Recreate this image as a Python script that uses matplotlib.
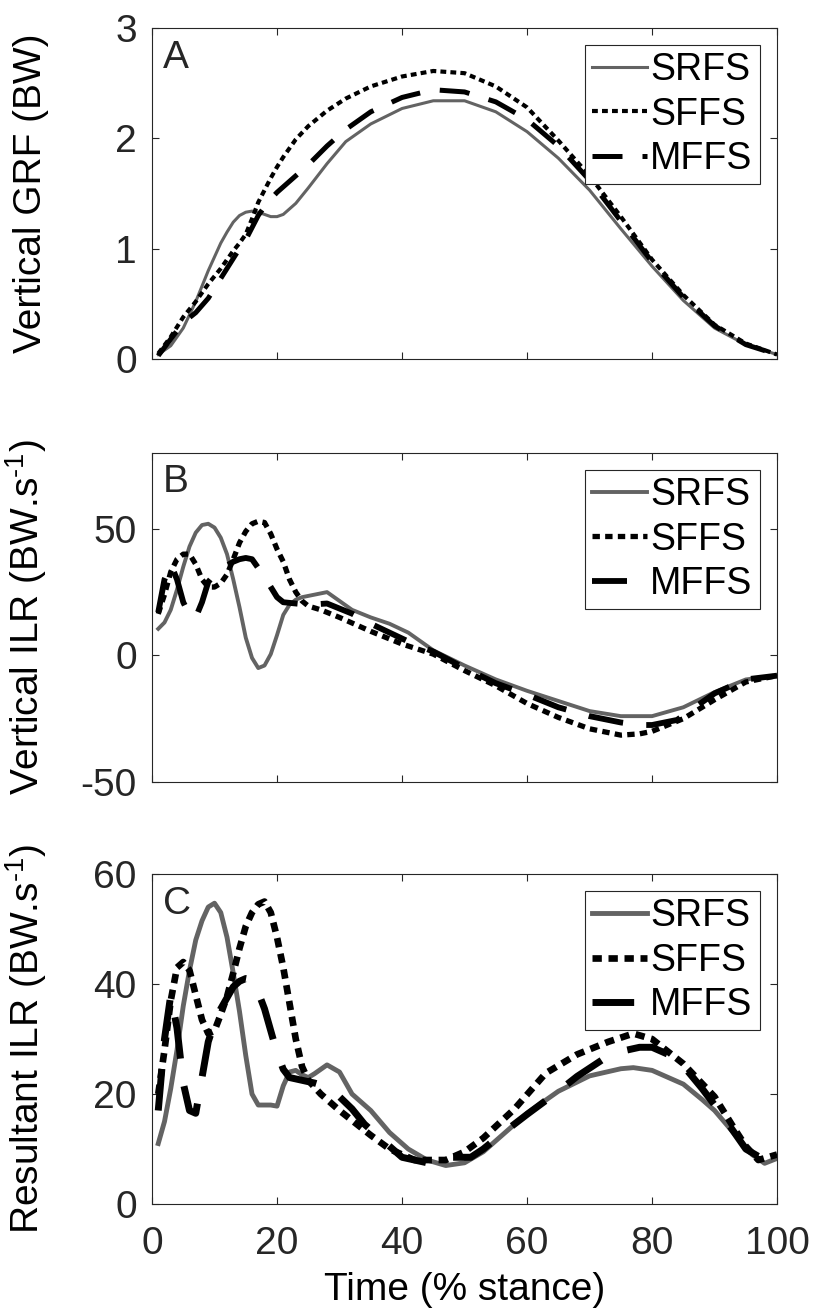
"""Vertical GRF, vertical ILR and resultant ILR over stance for three strike patterns."""
import matplotlib

matplotlib.use("Agg")
import matplotlib.pyplot as plt

plt.rcParams.update(
    {
        "font.family": ["Liberation Sans", "DejaVu Sans"],
        "mathtext.fontset": "custom",
        "mathtext.rm": "Liberation Sans",
        "mathtext.it": "Liberation Sans:italic",
        "axes.unicode_minus": False,
        "text.color": "#262626",
        "axes.edgecolor": "#262626",
        "xtick.color": "#262626",
        "ytick.color": "#262626",
        "axes.linewidth": 0.8,
    }
)

LABELS = ["SRFS", "SFFS", "MFFS"]
GREY = "#636363"

# --- panel A: vertical GRF (BW) ---
a_x = [1, 3, 5, 7, 9, 11, 12, 13, 14, 15, 16, 17, 18, 19, 20, 21, 23, 25, 28, 31,
       35, 40, 45, 50, 55, 60, 65, 70, 75, 80, 85, 90, 95, 100]
a_srfs = [0.04, 0.12, 0.28, 0.52, 0.80, 1.05, 1.15, 1.24, 1.30, 1.33, 1.34, 1.33,
          1.31, 1.29, 1.29, 1.31, 1.41, 1.55, 1.77, 1.97, 2.13, 2.27, 2.34, 2.34,
          2.24, 2.06, 1.82, 1.53, 1.18, 0.84, 0.53, 0.28, 0.13, 0.04]
a_sffs = [0.05, 0.20, 0.38, 0.52, 0.68, 0.82, 0.90, 0.98, 1.05, 1.13, 1.27, 1.42,
          1.53, 1.64, 1.74, 1.83, 1.99, 2.11, 2.25, 2.36, 2.47, 2.56, 2.61, 2.59,
          2.47, 2.28, 1.98, 1.66, 1.29, 0.90, 0.58, 0.31, 0.14, 0.04]
a_mffs = [0.03, 0.18, 0.33, 0.42, 0.55, 0.73, 0.82, 0.91, 1.00, 1.08, 1.19, 1.30,
          1.38, 1.45, 1.51, 1.56, 1.66, 1.76, 1.93, 2.08, 2.24, 2.37, 2.44, 2.42,
          2.33, 2.17, 1.93, 1.62, 1.25, 0.88, 0.56, 0.30, 0.13, 0.04]

# --- panel B: vertical ILR (BW.s^-1) ---
b_srfs_x = [1, 2, 3, 4, 5, 6, 7, 8, 9, 10, 11, 12, 13, 14, 15, 16, 17, 18, 19, 20,
            21, 22, 23, 24, 26, 28, 30, 32, 35, 38, 41, 45, 50, 55, 60, 65, 70, 75,
            80, 85, 90, 95, 100]
b_srfs = [10.5, 13, 18, 26, 35, 43, 48.5, 51.5, 52, 50.5, 46.5, 40, 30, 19, 7, -1,
          -5, -4, 0.5, 8, 16, 20, 22, 23, 24, 25, 21.5, 18, 15, 12.5, 9, 2, -4,
          -9.5, -14, -18, -22, -24, -24, -20.5, -14.5, -9.5, -8]
b_sffs_x = [1, 2, 3, 4, 5, 6, 7, 8, 9, 10, 11, 12, 13, 14, 15, 16, 17, 18, 19, 20,
            21, 22, 23, 24, 25, 27, 30, 35, 40, 45, 50, 55, 60, 65, 70, 75, 78, 80,
            85, 90, 95, 100]
b_sffs = [16.4, 24, 33, 38, 40, 40, 36, 30, 27, 27, 28.5, 32, 38, 44.5, 49, 52, 53,
          52.5, 48, 42, 37, 30, 25, 21.5, 19.5, 18, 15, 9.5, 4.5, 0.5, -6, -12,
          -19, -24.5, -29, -31.5, -31, -30, -25, -17.5, -10.5, -8]
b_mffs_x = [1, 2, 3, 4, 5, 6, 7, 8, 9, 10, 11, 12, 13, 14, 15, 16, 17, 18, 19, 20,
            21, 23, 25, 28, 30, 32, 35, 38, 41, 45, 50, 55, 60, 65, 70, 75, 78, 80,
            84, 90, 95, 100]
b_mffs = [17, 30, 36, 30, 21, 16, 15, 21, 29, 32, 33.5, 35.5, 37, 38, 38.5, 38,
          34.5, 31, 27, 23, 21, 20.5, 20, 20.5, 18.5, 16.5, 12.5, 9, 5.5, 1.5, -5,
          -11, -15.5, -20.5, -24, -26.5, -27.5, -27.5, -25.5, -15, -9.5, -8]

# --- panel C: resultant ILR (BW.s^-1) ---
c_srfs_x = [1, 2, 3, 4, 5, 6, 7, 8, 9, 10, 11, 12, 13, 14, 15, 16, 17, 18, 19, 20,
            21, 22, 23, 24, 25, 26, 28, 30, 32, 35, 38, 41, 44, 47, 50, 53, 56, 60,
            65, 70, 75, 77, 80, 85, 88, 90, 93, 96, 98, 100]
c_srfs = [11, 15, 21, 28, 36, 42.5, 48, 51.5, 54, 54.7, 53, 48.5, 42, 35, 27, 20,
          18, 18, 18, 17.8, 21.5, 24, 24.3, 23.5, 23, 23.7, 25.3, 24, 20, 17, 13,
          10, 8, 7, 7.5, 9.5, 12.5, 16.5, 20.5, 23.3, 24.6, 24.8, 24.3, 21.8, 19,
          17, 13, 9, 7.4, 8.3]
c_sffs_x = [1, 2, 3, 4, 5, 6, 7, 8, 9, 10, 11, 12, 13, 14, 15, 16, 17, 18, 19, 20,
            21, 22, 23, 24, 25, 27, 30, 35, 38, 42, 47, 50, 53, 58, 63, 68, 73, 77,
            80, 85, 90, 93, 95, 97, 100]
c_sffs = [20, 28, 37, 43, 44, 42.5, 38, 33.5, 31, 31.5, 34.5, 37.7, 42, 46.5, 50.5,
          53, 54.5, 55, 53, 48.5, 43, 36.5, 30, 25, 22.5, 20, 17, 12.5, 10, 8, 8,
          9.5, 12, 17.3, 23.8, 27.2, 29.5, 31, 30, 25.5, 19.5, 14, 10.5, 8, 9]
c_mffs_x = [1, 2, 3, 4, 5, 6, 7, 8, 9, 10, 11, 12, 13, 14, 15, 16, 17, 18, 19, 20,
            21, 22, 24, 26, 28, 30, 32, 34, 36, 38, 40, 44, 48, 51, 53, 56, 60, 65,
            68, 72, 76, 78, 80, 84, 88, 91, 95, 98, 100]
c_mffs = [17, 30, 38, 32, 22, 17, 16.5, 23, 29.5, 33, 35.5, 37.5, 39.5, 40.5, 41,
          40.8, 38.5, 35.5, 31.5, 27.5, 24.5, 23, 22.5, 22, 21.3, 19.5, 17.3, 14.5,
          12.5, 10.5, 8.5, 7.5, 8.5, 8.5, 10, 12.8, 16.3, 20.5, 23.2, 26.2, 28,
          28.5, 28.5, 26.5, 21, 16.5, 10, 8, 8.5]

X_TICKS = [0, 20, 40, 60, 80, 100]
FS = 28
SFFS_DOTS = (0, (1.4, 1.0))
MFFS_DASH = (0, (6.0, 4.0))


def draw_panel(ax, series, widths, ylim, yticks, letter, ylabel, show_x):
    styles = ["-", SFFS_DOTS, MFFS_DASH]
    colors = [GREY, "black", "black"]
    for (x, y), lw, ls, col, lab in zip(series, widths, styles, colors, LABELS):
        ax.plot(x, y, color=col, lw=lw, ls=ls, label=lab)
    ax.set_xlim(0, 100)
    ax.set_ylim(*ylim)
    ax.set_xticks(X_TICKS)
    ax.set_yticks(yticks)
    ax.tick_params(direction="in", length=5, width=0.8, top=True, right=True,
                   labelsize=FS)
    ax.tick_params(axis="y", pad=11)
    ax.tick_params(axis="x", pad=16)
    if not show_x:
        ax.set_xticklabels([])
    ax.text(0.018, 0.965, letter, transform=ax.transAxes, fontsize=FS,
            ha="left", va="top")
    ax.set_ylabel(ylabel, fontsize=FS)
    ax.yaxis.set_label_coords(-0.165, 0.5)
    leg = ax.legend(loc="upper right", fontsize=27, frameon=True, fancybox=False,
                    framealpha=1, edgecolor="#262626", borderaxespad=0.45,
                    handlelength=1.45, handletextpad=0.1, labelspacing=0.22,
                    borderpad=0.2, labelcolor="black")
    leg.get_frame().set_linewidth(0.8)


fig = plt.figure(figsize=(8.15, 13.12), dpi=100)
ax_a = fig.add_axes([0.1865, 0.7264, 0.767, 0.2523])
ax_b = fig.add_axes([0.1865, 0.4040, 0.767, 0.2508])
ax_c = fig.add_axes([0.1865, 0.0823, 0.767, 0.2515])

draw_panel(ax_a, [(a_x, a_srfs), (a_x, a_sffs), (a_x, a_mffs)], [2.2, 3.0, 3.6],
           (0, 3), [0, 1, 2, 3], "A", "Vertical GRF (BW)", False)
draw_panel(ax_b, [(b_srfs_x, b_srfs), (b_sffs_x, b_sffs), (b_mffs_x, b_mffs)],
           [2.8, 3.8, 4.2], (-50, 80), [-50, 0, 50], "B",
           "Vertical ILR (BW.s$^{\u20101}$)", False)
draw_panel(ax_c, [(c_srfs_x, c_srfs), (c_sffs_x, c_sffs), (c_mffs_x, c_mffs)],
           [3.5, 4.8, 5.0], (0, 60), [0, 20, 40, 60], "C",
           "Resultant ILR (BW.s$^{\u20101}$)", True)
ax_c.set_xlabel("Time (% stance)", fontsize=FS, labelpad=7)

fig.savefig("out.png", dpi=100)
